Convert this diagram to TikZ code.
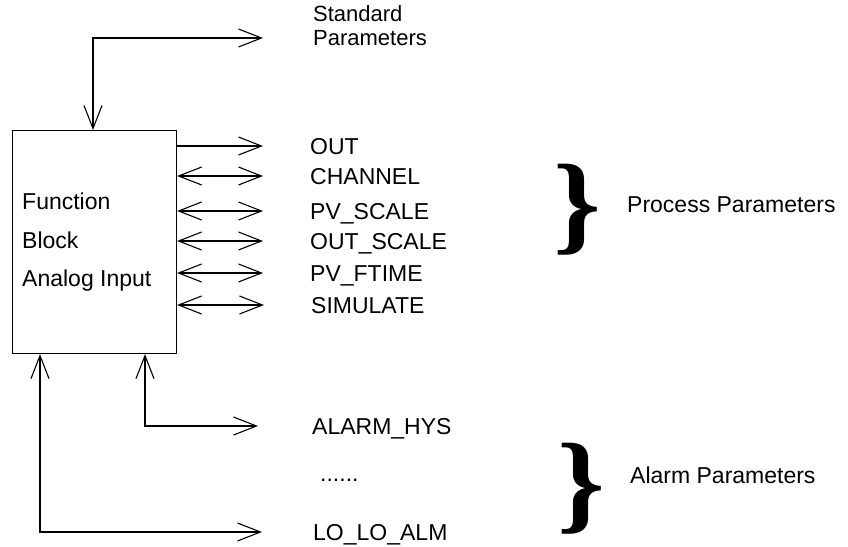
\documentclass[tikz,border=0pt]{standalone}
\usepackage{fontspec}
\setmainfont{Liberation Sans}
\newfontfamily\bracefont{Liberation Serif}
\usetikzlibrary{positioning,arrows.meta}
\tikzset{
  link/.style={line width=1.1pt, -{Straight Barb[length=23pt,width=18pt,line width=1.1pt]}},
  dlink/.style={line width=1.1pt, {Straight Barb[length=23pt,width=18pt,line width=1.1pt]}-{Straight Barb[length=23pt,width=18pt,line width=1.1pt]}},
  param/.style={font=\fontsize{23}{27}\selectfont, inner sep=0pt, text height=16pt, text depth=0pt, anchor=west},
  group/.style={font=\bracefont\bfseries\fontsize{110}{110}\selectfont, inner sep=0pt, anchor=base, xscale=1.1}
}

\begin{document}
\begin{tikzpicture}[x=1pt, y=-1pt]
  \useasboundingbox (0,0) rectangle (848,546);

  % function block
  \node[draw, line width=1.1pt, anchor=north west, inner sep=0pt,
        minimum width=164pt, minimum height=223pt] (fb) at (12,130) {};
  \node[param] (fn1) at (22,201) {Function};
  \node[param] (fn2) at (22,240) {Block};
  \node[param] (fn3) at (22,278) {Analog Input};

  % parameter labels
  \node[font=\fontsize{22}{24.7}\selectfont, inner sep=0pt, align=left,
        anchor=north west] (std) at (313,5) {Standard\\Parameters};
  \node[param] (out) at (310,146) {OUT};
  \node[param] (chan) at (310,176) {CHANNEL};
  \node[param] (pvs) at (310,211) {PV\_SCALE};
  \node[param] (outs) at (310,241) {OUT\_SCALE};
  \node[param] (pvf) at (310,273) {PV\_FTIME};
  \node[param] (sim) at (311,305) {SIMULATE};
  \node[param] (hys) at (312,426) {ALARM\_HYS};
  \node[param] (dots) at (320,473) {......};
  \node[param] (lolo) at (313,532) {LO\_LO\_ALM};

  % groups
  \node[group] (pbrace) at (577,240) {\}};
  \node[param] (proc) at (627,204) {Process Parameters};
  \node[group] (abrace) at (581,519) {\}};
  \node[param] (alarm) at (630,475) {Alarm Parameters};

  % connectors
  \coordinate (stdend) at ([xshift=-50pt]std.west |- 0,38);
  \draw[dlink] ([xshift=81pt]fb.north west) |- (stdend);
  \draw[link] (fb.east |- out) -- ([xshift=-47pt]out.west);
  \foreach \p in {chan,pvs,outs,pvf,sim}
    \draw[dlink] (fb.east |- \p) -- ([xshift=-47pt]\p.west);
  \coordinate (hysend) at ([xshift=-54pt]hys.west);
  \coordinate (loloend) at ([xshift=-51pt]lolo.west);
  \draw[dlink] ([xshift=133pt]fb.south west) |- (hysend);
  \draw[dlink] ([xshift=28pt]fb.south west) |- (loloend);
\end{tikzpicture}
\end{document}
